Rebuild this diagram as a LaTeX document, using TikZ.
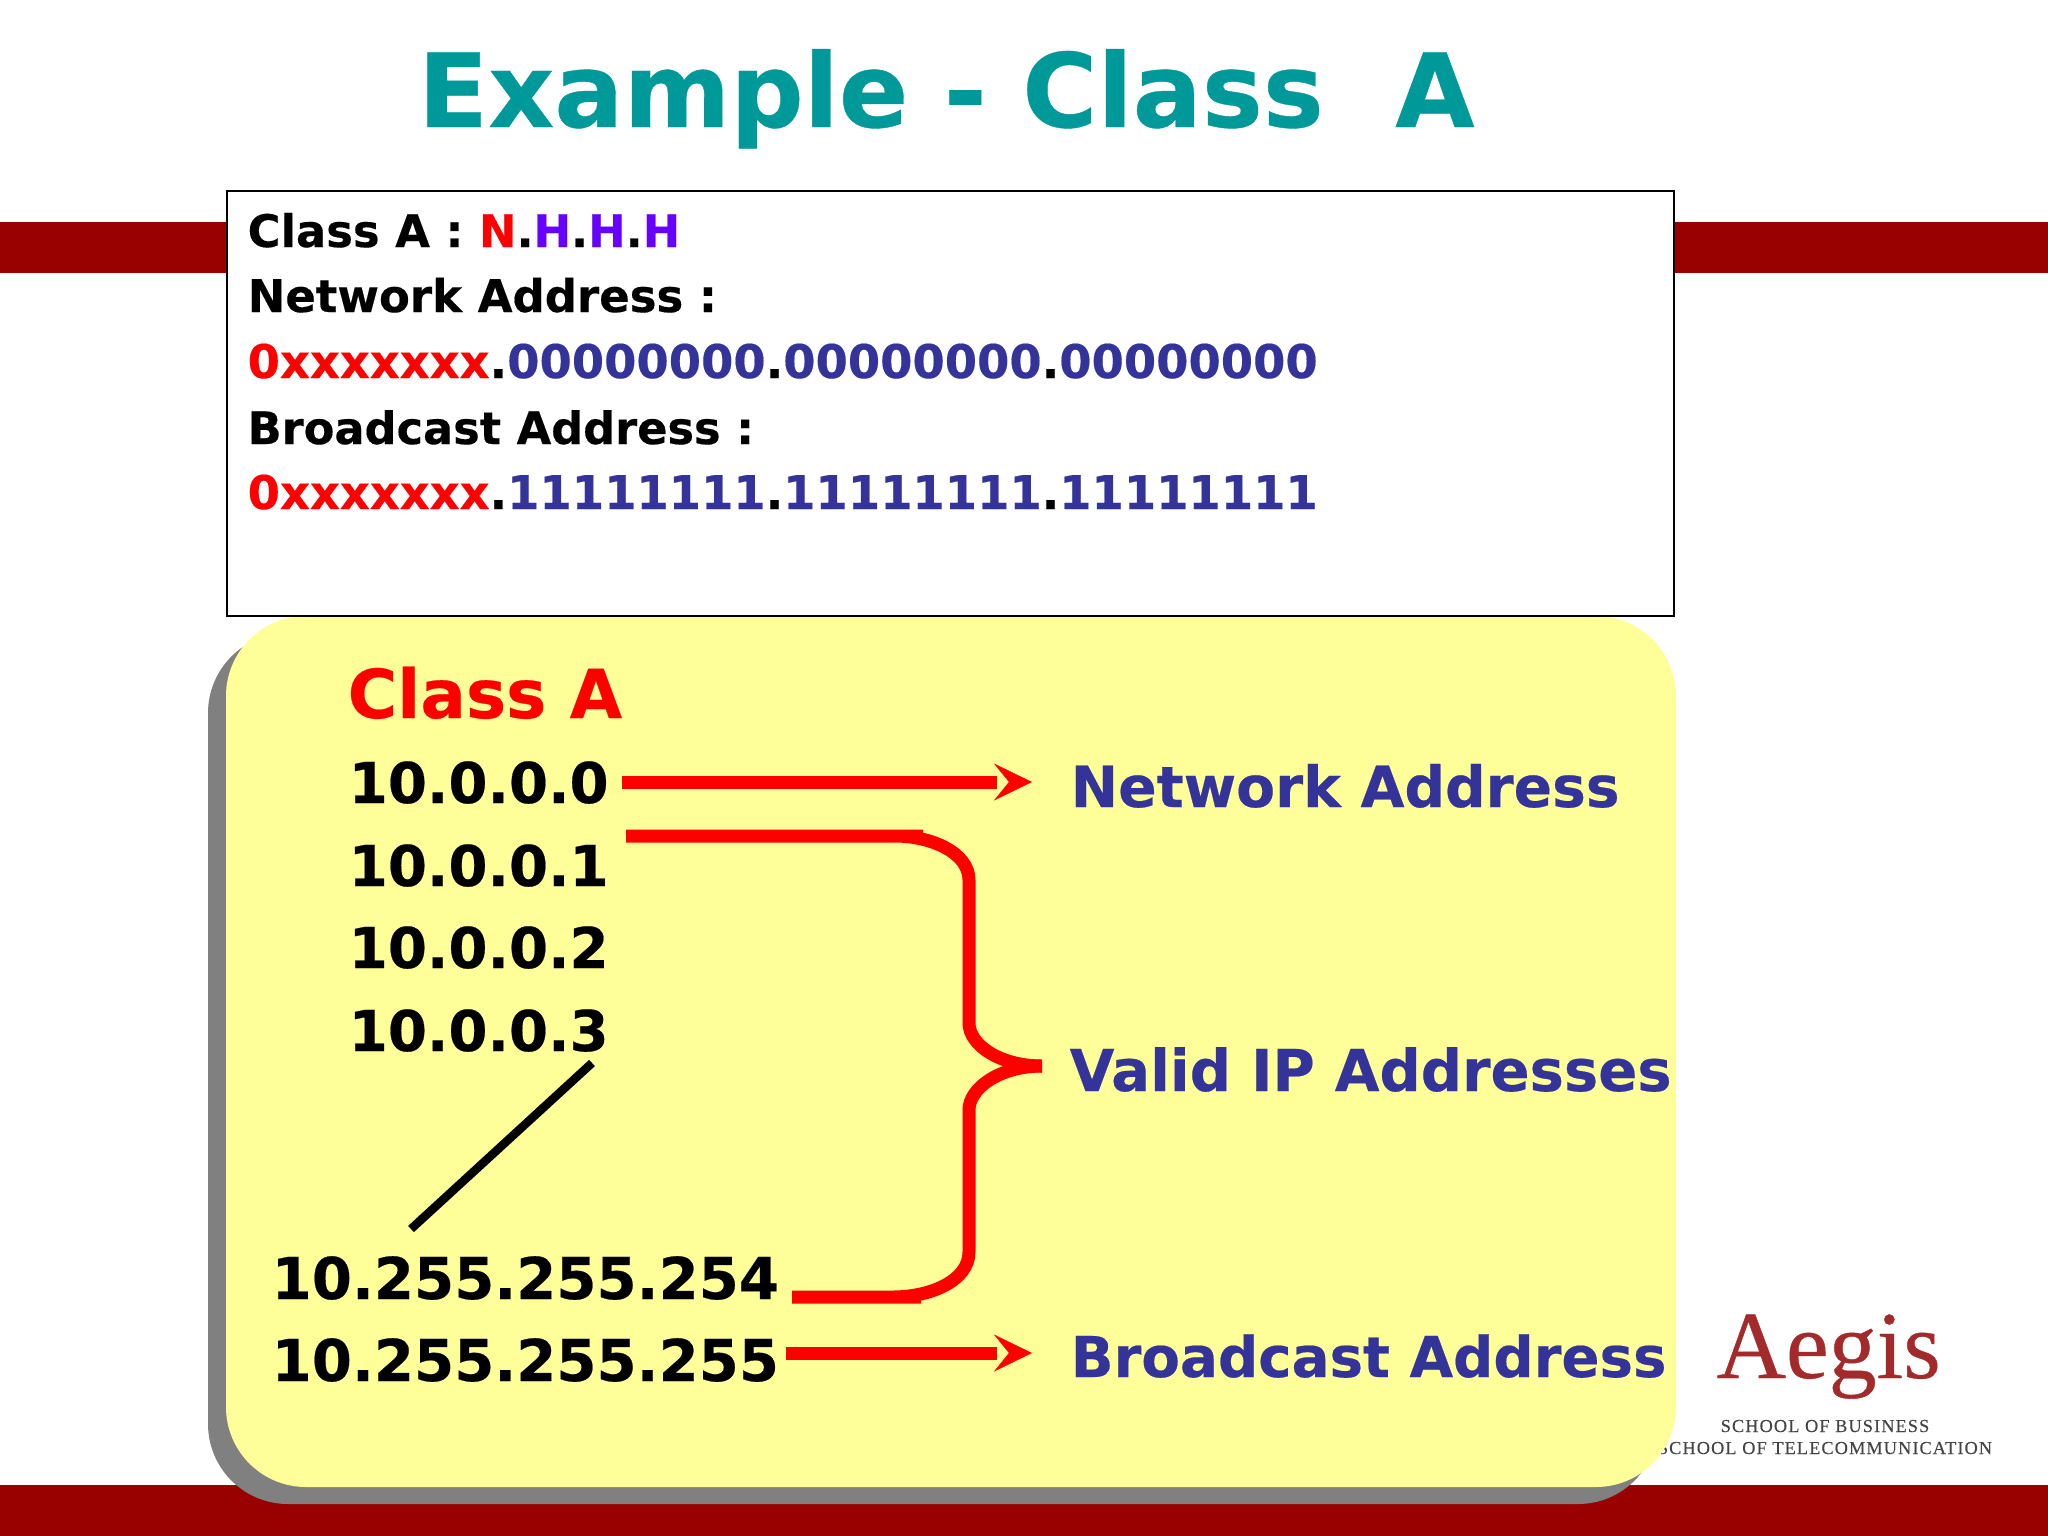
\documentclass[tikz,border=0pt]{standalone}
\usepackage{fontspec}
\setmainfont[BoldFeatures={FakeBold=0.35}]{DejaVu Sans}
\newfontfamily\logoserif[FakeBold=0.4]{Liberation Serif}
\newfontfamily\logospaced[LetterSpace=6,FakeBold=0.2]{Liberation Serif}
\usetikzlibrary{arrows.meta}
\definecolor{slidered}{HTML}{990000}
\definecolor{titleteal}{HTML}{009999}
\definecolor{paleyellow}{HTML}{FFFF99}
\definecolor{navy}{HTML}{333399}
\definecolor{hostviolet}{HTML}{6600FF}
\definecolor{logored}{HTML}{A32A2A}
\definecolor{logogray}{HTML}{444444}

\begin{document}
\begin{tikzpicture}[x=0.01cm,y=-0.01cm,
    txt/.style={anchor=base west,inner sep=0pt,font=\bfseries\fontsize{#1}{#1}\selectfont},
    addr/.style={txt=16},
    longaddr/.style={txt=16.4},
    lbl/.style={txt=#1,text=navy},
    shaft/.style={draw=red,line width=1.3mm},
    headtip/.style={draw=paleyellow,line width=0.1pt,-{Stealth[length=3.8mm,width=3.7mm,inset=1.5mm,color=red,fill=red]}},
    brace/.style={draw=red,line width=1.3mm}]
    \useasboundingbox (0,0) rectangle (2048,1536);
    \fill[slidered] (0,222) rectangle (2048,273);
    \fill[slidered] (0,1485) rectangle (2048,1536);
    % logo
    \node[anchor=base west,inner sep=0pt,text=logored,font=\logoserif\fontsize{27.3}{27.3}\selectfont] (aegis) at (1716,1378) {Aegis};
    \node[anchor=base,inner sep=0pt,text=logogray,font=\logospaced\fontsize{5.2}{5.2}\selectfont] (school) at (1825,1432) {SCHOOL OF BUSINESS};
    \node[anchor=base,inner sep=0pt,text=logogray,font=\logospaced\fontsize{5.2}{5.2}\selectfont] (telecom) at (1825,1454) {SCHOOL OF TELECOMMUNICATION};
    % panels
    \fill[gray,rounded corners=8mm] (208,633) rectangle (1658,1504);
    \fill[paleyellow,rounded corners=8mm] (226,616) rectangle (1676,1487);
    \draw[black,line width=0.2mm,fill=white] (227,191) rectangle (1674,616);
    \node[txt=29.15,text=titleteal] (title) at (417.5,127) {Example - Class\ \ A};
    % top box
    \node[txt=12.75] (classline) at (247,247) {Class A : \textcolor{red}{N}.\textcolor{hostviolet}{H}.\textcolor{hostviolet}{H}.\textcolor{hostviolet}{H}};
    \node[txt=12.8] (nethead) at (247,312) {Network Address :};
    \node[txt=13.2] (netbits) at (247,378) {\textcolor{red}{0xxxxxxx}.\textcolor{navy}{00000000}.\textcolor{navy}{00000000}.\textcolor{navy}{00000000}};
    \node[txt=12.7] (bcasthead) at (247,444) {Broadcast Address :};
    \node[txt=13.2] (bcastbits) at (247,509) {\textcolor{red}{0xxxxxxx}.\textcolor{navy}{11111111}.\textcolor{navy}{11111111}.\textcolor{navy}{11111111}};
    % addresses
    \node[txt=19.2,text=red] (classa) at (347,718) {Class A};
    \node[addr] (addr0) at (348,803) {10.0.0.0};
    \node[addr] (addr1) at (348,886) {10.0.0.1};
    \node[addr] (addr2) at (348,968) {10.0.0.2};
    \node[addr] (addr3) at (348,1051) {10.0.0.3};
    \node[longaddr] (addr254) at (271,1299) {10.255.255.254};
    \node[longaddr] (addr255) at (271,1381) {10.255.255.255};
    \node[lbl=16.13] (netlabel) at (1070,807) {Network Address};
    \node[lbl=16.4] (validlabel) at (1069,1091) {Valid IP Addresses};
    \node[lbl=16] (bcastlabel) at (1070,1377) {Broadcast Address};
    % connectors
    \coordinate (netend) at (997,782);
    \coordinate (bcastend) at (997,1353);
    \coordinate (bracetop) at (626,836);
    \coordinate (bracetip) at (1042,1066);
    \coordinate (bracelow) at (792,1297);
    \coordinate (dotsup) at (592,1063);
    \coordinate (dotsdown) at (411,1229);
    \draw[shaft,shorten <=1.3mm] (addr0.east |- netend) -- (netend);
    \draw[headtip,shorten >=3.8mm] (netend) -- (netend -| netlabel.west);
    \draw[shaft,shorten <=0.6mm] (addr255.east |- bcastend) -- (bcastend);
    \draw[headtip,shorten >=3.8mm] (bcastend) -- (bcastend -| bcastlabel.west);
    \draw[brace] (bracetop) -- ++(297,0) ++(-28,0) .. controls (930,836) and (969,852) .. (969,880)
        -- (969,1023) .. controls (969,1045) and (1000,1066) .. (bracetip);
    \draw[brace] (bracelow) -- ++(129,0) ++(-28,0) .. controls (930,1297) and (969,1281) .. (969,1252)
        -- (969,1110) .. controls (969,1088) and (1000,1066) .. (bracetip);
    \draw[black,line width=0.85mm] (dotsup) -- (dotsdown);
\end{tikzpicture}
\end{document}
